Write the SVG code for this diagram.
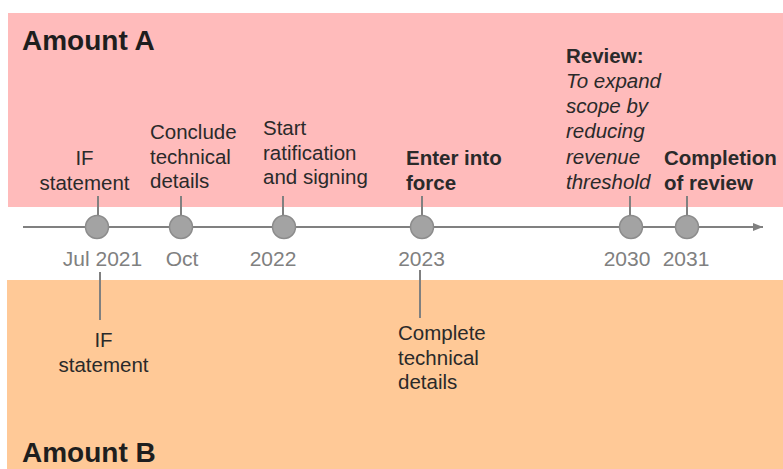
<svg xmlns="http://www.w3.org/2000/svg" width="783" height="469" viewBox="0 0 783 469">
<style>
text{font-family:"Liberation Sans",Arial,sans-serif;}
.title{font-size:28px;font-weight:bold;fill:#1e1e1e;}
.lbl{font-size:20.5px;fill:#2a2a2a;}
.b{font-weight:bold;}
.i{font-style:italic;}
.date{font-size:21px;fill:#808080;text-anchor:middle;}
.dot{fill:#a3a3a3;stroke:#8c8c8c;stroke-width:1.5;}
.tick{stroke:#808080;stroke-width:2;}
</style>
<defs>
<marker id="arr" markerWidth="10" markerHeight="8" refX="10" refY="4" orient="auto" markerUnits="userSpaceOnUse">
<path d="M0,0 L10,4 L0,8 Z" fill="#808080"/>
</marker>
</defs>
<rect x="0" y="0" width="783" height="469" fill="#ffffff"/>
<g id="bandA">
<rect x="8" y="13" width="775" height="194" fill="#ffbbbb"/>
<text class="title" x="22" y="50">Amount A</text>
</g>
<g id="bandB">
<rect x="7" y="280" width="776" height="189" fill="#ffc997"/>
<text class="title" x="22" y="462">Amount B</text>
</g>
<g id="connectors">
<line x1="23" y1="227" x2="763" y2="227" stroke="#808080" stroke-width="2" marker-end="url(#arr)"/>
<line class="tick" x1="98" y1="196" x2="98" y2="215"/>
<line class="tick" x1="181" y1="196" x2="181" y2="215"/>
<line class="tick" x1="283" y1="196" x2="283" y2="215"/>
<line class="tick" x1="422" y1="196" x2="422" y2="215"/>
<line class="tick" x1="630" y1="196" x2="630" y2="215"/>
<line class="tick" x1="687" y1="196" x2="687" y2="215"/>
<line class="tick" x1="100" y1="272" x2="100" y2="320"/>
<line class="tick" x1="420" y1="270" x2="420" y2="318"/>
</g>
<g id="n-jul2021">
<circle class="dot" cx="97" cy="227" r="11.5"/>
<text class="date" x="102.5" y="266">Jul 2021</text>
<text class="lbl" x="84.5" y="165" text-anchor="middle">IF</text>
<text class="lbl" x="84.5" y="190" text-anchor="middle">statement</text>
<text class="lbl" x="103.5" y="347" text-anchor="middle">IF</text>
<text class="lbl" x="103.5" y="372" text-anchor="middle">statement</text>
</g>
<g id="n-oct">
<circle class="dot" cx="181" cy="227" r="11.5"/>
<text class="date" x="182" y="266">Oct</text>
<text class="lbl" x="150" y="139">Conclude</text>
<text class="lbl" x="150" y="163.5">technical</text>
<text class="lbl" x="150" y="188">details</text>
</g>
<g id="n-2022">
<circle class="dot" cx="284" cy="227" r="11.5"/>
<text class="date" x="273" y="266">2022</text>
<text class="lbl" x="263" y="135">Start</text>
<text class="lbl" x="263" y="159.5">ratification</text>
<text class="lbl" x="263" y="184">and signing</text>
</g>
<g id="n-2023">
<circle class="dot" cx="422" cy="227" r="11.5"/>
<text class="date" x="421.5" y="266">2023</text>
<text class="lbl b" x="406" y="165">Enter into</text>
<text class="lbl b" x="406" y="190">force</text>
<text class="lbl" x="398" y="340">Complete</text>
<text class="lbl" x="398" y="364.5">technical</text>
<text class="lbl" x="398" y="389">details</text>
</g>
<g id="n-2030">
<circle class="dot" cx="631" cy="227" r="11.5"/>
<text class="date" x="627" y="266">2030</text>
<text class="lbl b" x="566" y="62.5">Review:</text>
<text class="lbl i" x="566" y="87.8">To expand</text>
<text class="lbl i" x="566" y="113">scope by</text>
<text class="lbl i" x="566" y="138.4">reducing</text>
<text class="lbl i" x="566" y="163.7">revenue</text>
<text class="lbl i" x="566" y="189">threshold</text>
</g>
<g id="n-2031">
<circle class="dot" cx="687" cy="227" r="11.5"/>
<text class="date" x="686" y="266">2031</text>
<text class="lbl b" x="664" y="165">Completion</text>
<text class="lbl b" x="664" y="190">of review</text>
</g>
</svg>
